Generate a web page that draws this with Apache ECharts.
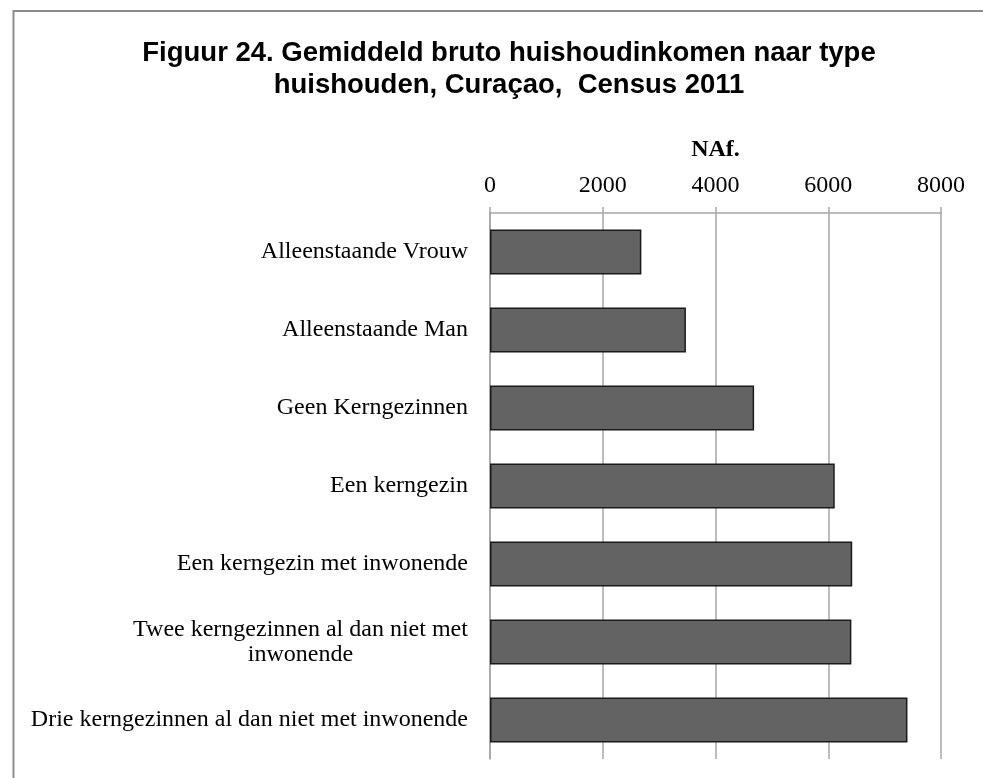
<!DOCTYPE html>
<html>
<head>
<meta charset="utf-8">
<title>Figuur 24</title>
<script src="https://cdn.jsdelivr.net/npm/echarts@6/dist/echarts.min.js"></script>
<style>
  html, body { margin: 0; padding: 0; background: #ffffff; }
  #chart { width: 983px; height: 778px; }
</style>
</head>
<body>
<div id="chart"></div>
<script>
// categories, top to bottom as in the picture
var categories = [
    'Alleenstaande Vrouw',
    'Alleenstaande Man',
    'Geen Kerngezinnen',
    'Een kerngezin',
    'Een kerngezin met inwonende',
    'Twee kerngezinnen al dan niet met\ninwonende',
    'Drie kerngezinnen al dan niet met inwonende'
];
// average gross household income (NAf.)
var incomes = [2685, 3475, 4685, 6115, 6425, 6410, 7405];
var tickMin = 0;
var tickMax = 8000;
var tickStep = 2000;

var labelFont = '"Liberation Serif", "Times New Roman", serif';
var labelSize = 24;

// width of the widest line, so a two-line label can be centred on itself
function lineWidth(text) {
    var ctx = document.createElement('canvas').getContext('2d');
    ctx.font = labelSize + 'px ' + labelFont;
    return ctx.measureText(text).width;
}

var chart = echarts.init(document.getElementById('chart'));

var option = {
    backgroundColor: '#ffffff',
    animation: false,
    title: {
        text: 'Figuur 24. Gemiddeld bruto huishoudinkomen naar type\nhuishouden, Curaçao,  Census 2011',
        left: 504,
        top: 32,
        textAlign: 'center',
        textStyle: {
            fontFamily: '"Liberation Sans", Arial, sans-serif',
            fontSize: 27.5,
            fontWeight: 'bold',
            color: '#000000',
            lineHeight: 32
        }
    },
    graphic: [{
        type: 'rect',
        shape: { x: 13.5, y: 11, width: 1000, height: 800 },
        style: { fill: 'none', stroke: '#8c8c8c', lineWidth: 2 }
    }],
    grid: {
        left: 490,
        right: 42,
        top: 213,
        bottom: 19,
        containLabel: false
    },
    xAxis: {
        type: 'value',
        position: 'top',
        min: tickMin,
        max: tickMax,
        interval: tickStep,
        name: 'NAf.',
        nameLocation: 'middle',
        nameGap: 51,
        nameTextStyle: {
            fontFamily: labelFont,
            fontSize: 24,
            fontWeight: 'bold',
            color: '#000000'
        },
        axisLine: { show: true, lineStyle: { color: '#a6a6a6', width: 1.5 } },
        axisTick: { show: true, length: 6, lineStyle: { color: '#a6a6a6', width: 1.5 } },
        axisLabel: {
            margin: 15,
            fontFamily: labelFont,
            fontSize: labelSize,
            color: '#000000',
            formatter: function (v) { return String(v); }
        },
        splitLine: { show: true, lineStyle: { color: '#a6a6a6', width: 1.5 } }
    },
    yAxis: {
        type: 'category',
        inverse: true,
        data: categories,
        axisLine: { show: true, lineStyle: { color: '#a6a6a6', width: 1.5 } },
        axisTick: { show: false },
        axisLabel: {
            margin: 22,
            fontFamily: labelFont,
            fontSize: labelSize,
            color: '#000000',
            lineHeight: 25,
            formatter: function (value) {
                if (value.indexOf('\n') < 0) return value;
                var lines = value.split('\n');
                var w = Math.max.apply(null, lines.map(lineWidth));
                return lines.map(function (line) {
                    return '{c' + Math.round(w) + '|' + line + '}';
                }).join('\n');
            },
            rich: (function () {
                var r = {};
                categories.forEach(function (c) {
                    if (c.indexOf('\n') < 0) return;
                    var w = Math.round(Math.max.apply(null, c.split('\n').map(lineWidth)));
                    r['c' + w] = {
                        width: w,
                        align: 'center',
                        fontFamily: labelFont,
                        fontSize: labelSize,
                        lineHeight: 25,
                        color: '#000000'
                    };
                });
                return r;
            })()
        }
    },
    series: [{
        type: 'bar',
        data: incomes,
        barCategoryGap: '42%',
        itemStyle: {
            color: '#636363',
            borderColor: '#1a1a1a',
            borderWidth: 1.5
        }
    }]
};

chart.setOption(option);
</script>
</body>
</html>
